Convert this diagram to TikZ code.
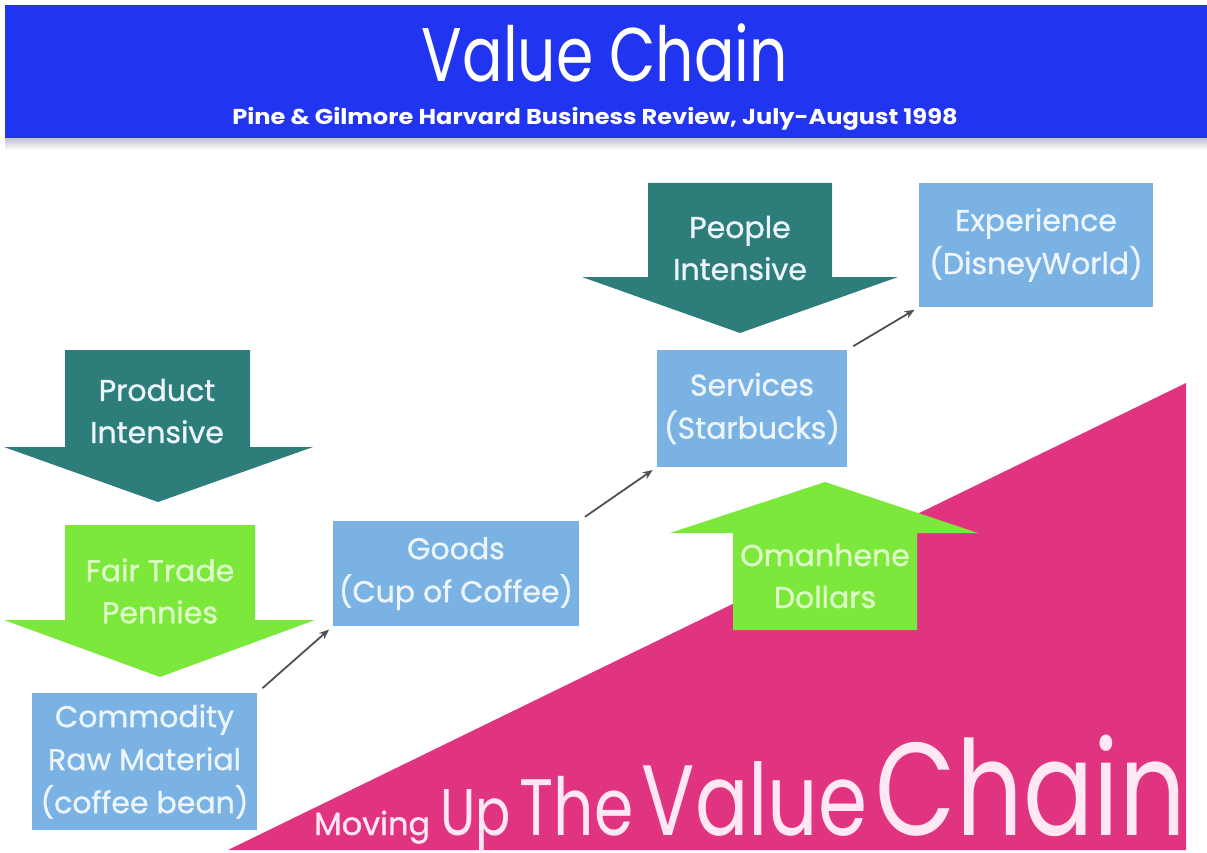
\documentclass[tikz,border=0pt]{standalone}
\usepackage{fontspec}
\setmainfont{Poppins}
\newfontfamily\stagefont[FakeBold=1.0]{Poppins}
\newfontfamily\narrowsans[FakeStretch=0.79]{Poppins}
\newfontfamily\widesans[FakeStretch=1.12]{Poppins}
\usepackage{tikz}
\usetikzlibrary{arrows.meta}
\definecolor{bannerblue}{RGB}{33,52,240}
\definecolor{tealarrow}{RGB}{45,125,122}
\definecolor{greenarrow}{RGB}{125,232,60}
\definecolor{boxblue}{RGB}{122,178,228}
\definecolor{chainpink}{RGB}{224,52,128}
\definecolor{boxtext}{RGB}{236,244,252}
\definecolor{greentext}{RGB}{222,252,200}
\definecolor{chaintext}{RGB}{255,232,244}
\definecolor{linkgray}{RGB}{80,80,84}
\tikzset{
    stagebox/.style = {rectangle, fill=boxblue, text=boxtext, align=center, inner sep=0pt, font=\stagefont\fontsize{30}{43}\selectfont},
    arrowtext/.style = {align=center, inner sep=0pt, font=\stagefont\fontsize{30}{42}\selectfont},
    chainlink/.style = {-{Stealth[length=10pt,width=8pt]}, line width=1.8pt, draw=linkgray, shorten <=7pt, shorten >=5pt},
    chainword/.style = {anchor=base west, inner sep=0pt, text=chaintext},
}

\begin{document}
\begin{tikzpicture}[x=1pt, y=-1pt]
\useasboundingbox (0,0) rectangle (1207,853);
% banner
\fill[top color=gray!55, bottom color=white] (5,136) rectangle (1207,150);
\fill[bannerblue] (5,5) rectangle (1207,138);
\node[anchor=base, text=white, font=\narrowsans\fontsize{76}{76}\selectfont] (title) at (605,82) {Value Chain};
\node[anchor=base, text=white, font=\widesans\bfseries\fontsize{21.5}{21.5}\selectfont] (sub) at (595,125) {Pine \& Gilmore Harvard Business Review, July-August 1998};
%
% pink wedge
\fill[chainpink] (228,850) -- (1186,383) -- (1186,850) -- cycle;
\node[chainword, font=\stagefont\fontsize{32}{32}\selectfont] (moving) at (314,835) {Moving};
\node[chainword, font=\narrowsans\fontsize{66}{66}\selectfont] (up) at ([xshift=10pt]moving.base east) {Up};
\node[chainword, font=\narrowsans\fontsize{80}{80}\selectfont] (the) at ([xshift=8pt]up.base east) {The};
\node[chainword, font=\narrowsans\fontsize{100}{100}\selectfont] (value) at ([xshift=8pt]the.base east) {Value};
\node[chainword, font=\narrowsans\fontsize{132}{132}\selectfont] (chain) at ([xshift=8pt]value.base east) {Chain};
%
% big arrows
\fill[tealarrow] (65,350) -- (250,350) -- (250,447) -- (313,447) -- (158,502) -- (4,447) -- (65,447) -- cycle;
\node[arrowtext, text=boxtext] (prod) at (157,411) {Product\\Intensive};
\fill[greenarrow] (65,525) -- (255,525) -- (255,620) -- (315,620) -- (160,677) -- (4,620) -- (65,620) -- cycle;
\node[arrowtext, text=greentext] (fair) at (160,591) {Fair Trade\\Pennies};
\fill[tealarrow] (648,183) -- (832,183) -- (832,277) -- (898,277) -- (740,333) -- (582,277) -- (648,277) -- cycle;
\node[arrowtext, text=boxtext] (people) at (740,248) {People\\Intensive};
\fill[greenarrow] (825,482) -- (978,533) -- (917,533) -- (917,630) -- (733,630) -- (733,533) -- (670,533) -- cycle;
\node[arrowtext, text=greentext] (oman) at (825,576) {Omanhene\\Dollars};
%
% stages
\node[stagebox, minimum width=225pt, minimum height=137pt] (comm) at (144.5,761.5) {Commodity\\Raw Material\\(coffee bean)};
\node[stagebox, minimum width=246pt, minimum height=105pt] (goods) at (456,573.5) {Goods\\(Cup of Coffee)};
\node[stagebox, minimum width=190pt, minimum height=117pt] (serv) at (752,408.5) {Services\\(Starbucks)};
\node[stagebox, minimum width=234pt, minimum height=124pt] (exp) at (1036,245) {Experience\\(DisneyWorld)};
%
\draw[chainlink] (comm.north east) -- (goods.south west);
\draw[chainlink] (goods.north east) -- (serv.south west);
\draw[chainlink] (serv.north east) -- (exp.south west);
\end{tikzpicture}
\end{document}
